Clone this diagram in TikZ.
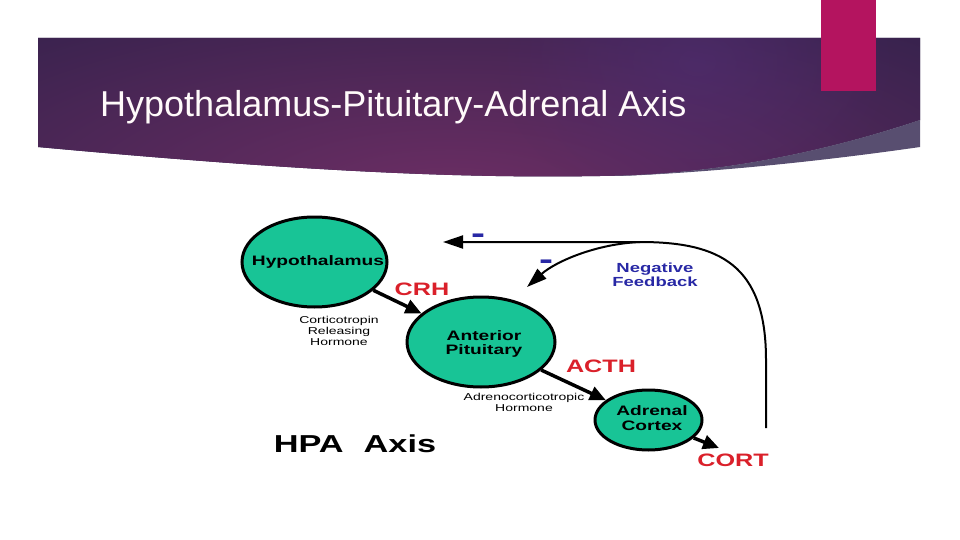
\documentclass[tikz,border=0pt]{standalone}
\usepackage{fontspec}
\setmainfont{Liberation Sans}
\newfontfamily\widefont[FakeStretch=1.4]{Liberation Sans}
\usepackage{tikz}
\usetikzlibrary{arrows.meta}
\usetikzlibrary{shapes.geometric}
\usetikzlibrary{fadings}

\definecolor{glandgreen}{RGB}{24,196,150}
\definecolor{hormonered}{RGB}{218,32,42}
\definecolor{feedblue}{RGB}{40,40,165}
\definecolor{bandL}{RGB}{38,30,70}
\definecolor{bandM}{RGB}{108,46,100}
\definecolor{glowpurple}{RGB}{80,46,118}
\definecolor{swoosh}{RGB}{88,78,112}
\definecolor{tabpink}{RGB}{180,20,95}
\tikzfading[name=glowfade, inner color=transparent!45, outer color=transparent!100]

\begin{document}
\begin{tikzpicture}[x=1pt,y=-1pt,
gland/.style={ellipse, draw=black, line width=3pt, fill=glandgreen, inner sep=0pt},
glandname/.style={font=\widefont\bfseries\fontsize{13.7}{14.5}\selectfont, align=center},
hormone/.style={font=\widefont\bfseries\fontsize{18}{18}\selectfont, text=hormonered},
fullname/.style={font=\widefont\fontsize{10}{11}\selectfont, align=center},
minus/.style={font=\widefont\bfseries\fontsize{30}{30}\selectfont, text=feedblue},
release/.style={line width=3.5pt, -{Triangle[length=16pt,width=14pt]}},
feedback/.style={line width=2pt, -{Triangle[length=20pt,width=13pt]}}]
\useasboundingbox (0,0) rectangle (960,540);
% draws banner
\begin{scope}
\clip (38,38) -- (920,38) -- (920,120) .. controls (830,150) and (720,175) .. (600,176)
  .. controls (480,178) and (330,174) .. (38,147) -- cycle;
\fill[bandL] (0,0) rectangle (960,200);
\shade[inner color=bandM, outer color=bandL] (450,195) ellipse (900 and 300);
\fill[glowpurple, path fading=glowfade] (697,62) ellipse (200 and 150);
\end{scope}
\fill[swoosh] (600,176) .. controls (720,175) and (830,150) .. (920,120) -- (920,147)
  .. controls (830,160) and (720,172) .. (620,176) -- cycle;
\fill[tabpink] (821,0) rectangle (876,91);
\node[anchor=base west, text=white!92!pink, inner sep=0pt, font=\fontsize{36}{36}\selectfont]
  (title) at (100,117) {Hypothalamus-Pituitary-Adrenal Axis};
% draws glands
\node[gland, minimum width=145pt, minimum height=90pt] (hyp) at (314.5,262) {};
\node[gland, minimum width=148pt, minimum height=90pt] (pit) at (481,342) {};
\node[gland, minimum width=107pt, minimum height=60pt] (adr) at (648.5,420) {};
\node[glandname] (hyptext) at (318,262) {Hypothalamus};
\node[glandname] (pittext) at (484,344) {Anterior\\Pituitary};
\node[glandname] (adrtext) at (652,418) {Adrenal\\Cortex};
% labels hormones
\node[hormone] (crh) at (422,289) {CRH};
\node[hormone] (acth) at (601,366) {ACTH};
\node[hormone] (cort) at (733,460) {CORT};
\node[fullname] (crhname) at (339,331) {Corticotropin\\Releasing\\Hormone};
\node[fullname] (acthname) at (524,402) {Adrenocorticotropic\\Hormone};
\node[font=\widefont\bfseries\fontsize{24.5}{25}\selectfont] (hpa) at (355,444) {HPA\hspace{20pt}Axis};
\node[font=\widefont\bfseries\fontsize{13.2}{14.5}\selectfont, text=feedblue, align=center]
  (negfb) at (655,275) {Negative\\Feedback};
\node[minus] (minus1) at (478,239) {-};
\node[minus] (minus2) at (546,265) {-};
% draws arrows
\coordinate (corttip) at (719,448);
\coordinate (fbbottom) at (766,428);
\coordinate (fbturn) at (766,360);
\coordinate (fbsplit) at (640,242);
\coordinate (fbtip1) at (443,242);
\coordinate (fbtip2) at (527,287);
\draw[release] (hyp) -- (pit);
\draw[release] (pit) -- (adr);
\draw[release] (adr) -- (corttip);
\draw[feedback] (fbbottom) -- (fbturn) .. controls (766,265) and (720,242) .. (fbsplit) -- (fbtip1);
\draw[feedback] (fbsplit) .. controls (595,244) and (555,262) .. (fbtip2);
\end{tikzpicture}
\end{document}
